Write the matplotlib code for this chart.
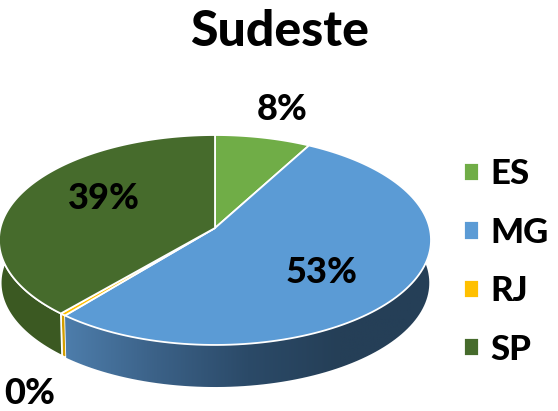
import numpy as np
import matplotlib
matplotlib.use("Agg")
from matplotlib import pyplot as plt
from matplotlib.colors import LinearSegmentedColormap
from matplotlib.patches import Polygon

states = ["ES", "MG", "RJ", "SP"]
shares = [8.0, 53.0, 0.4, 38.6]
colors = ["#70AD47", "#5B9BD5", "#FFC000", "#466B2C"]
wall_colors = ["#4F7A33", "#3A6288", "#D39E00", "#3B5922"]
label_pos = [(282, 109), (322, 272), (30, 393), (104, 198)]

plt.rcParams["font.family"] = ["Lato", "DejaVu Sans"]

CX, CY = 215, 228  # where the slices meet
DEPTH = 43


def project(theta, lift=0.0, scale=1.0):
    # circle seen in perspective, theta clockwise from the top
    k = 0.1142
    w = 1 + k * np.cos(theta)
    x = CX + scale * 214.6 * np.sin(theta) / w
    y = CY - scale * 103.6 * np.cos(theta) / w + lift
    return np.column_stack([x, y])


fig = plt.figure(figsize=(5.58, 4.11), dpi=100)
ax = fig.add_axes([0, 0, 1, 1])

edges = np.radians(np.cumsum([0] + shares) * 3.6)

# side walls first, the top faces cover whatever is at the back
ramp = LinearSegmentedColormap.from_list(
    "wall", ["#4D7DAB", "#3B6187", "#2B4A68", "#253F57", "#253F57"])
for i, state in enumerate(states):
    th = np.linspace(edges[i], edges[i + 1], 120)
    top = project(th)
    bottom = project(th, DEPTH, 0.992)
    wall = Polygon(np.vstack([top, bottom[::-1]]), closed=True,
                   facecolor=wall_colors[i], edgecolor="white", linewidth=1.2, zorder=1)
    ax.add_patch(wall)
    if state == "MG":
        im = ax.imshow(np.linspace(0, 1, 256).reshape(1, -1), cmap=ramp, aspect="auto",
                       extent=(65, 431, 400, 240), zorder=1.5)
        im.set_clip_path(wall)

for i, state in enumerate(states):
    th = np.linspace(edges[i], edges[i + 1], 120)
    pts = np.vstack([[[CX, CY]], project(th)])
    ax.add_patch(Polygon(pts, closed=True, facecolor=colors[i], edgecolor="white",
                         linewidth=1.3, label=state, zorder=2))
    ax.text(label_pos[i][0], label_pos[i][1], f"{shares[i]:.0f}%", fontsize=26,
            fontweight=900, ha="center", va="center", color="black", zorder=3)

ax.set_xlim(0, 558)
ax.set_ylim(411, 0)
ax.axis("off")

ax.text(279, 32, "Sudeste", fontsize=36, fontweight=900, ha="center", va="center")

ax.legend(loc="center left", bbox_to_anchor=(464 / 558, 1 - 262 / 411), frameon=False,
          prop={"size": 25, "weight": 900}, handlelength=0.43, handleheight=0.43,
          handletextpad=0.33, labelspacing=0.76, borderpad=0, borderaxespad=0)

fig.savefig("out.png", dpi=100)
